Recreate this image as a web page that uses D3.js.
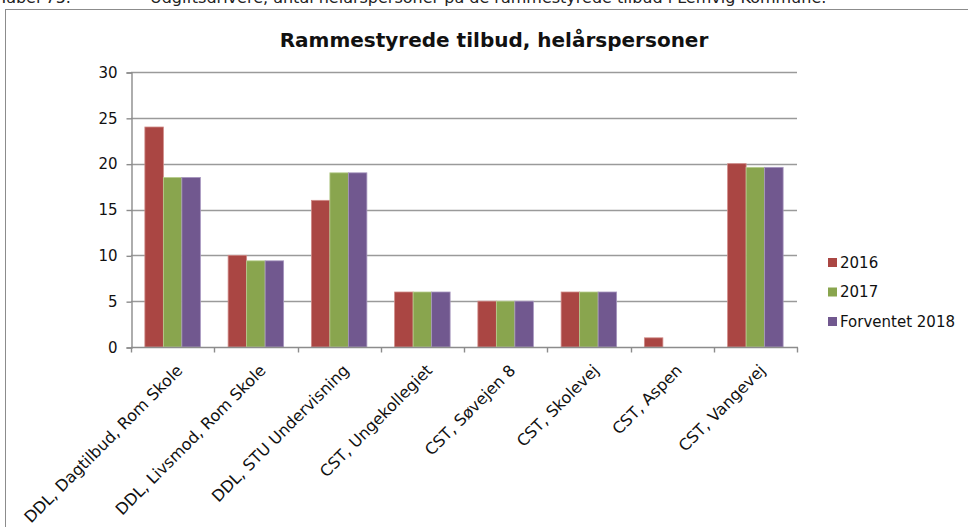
<!DOCTYPE html>
<html>
<head>
<meta charset="utf-8">
<script src="https://cdn.jsdelivr.net/npm/d3@7"></script>
<style>
  html, body { margin: 0; padding: 0; background: #fff; }
  svg { display: block; font-family: "DejaVu Sans", Verdana, sans-serif; }
</style>
</head>
<body>
<div id="chart"></div>
<script>
// data
var categories = ["DDL, Dagtilbud, Rom Skole", "DDL, Livsmod, Rom Skole", "DDL, STU Undervisning",
  "CST, Ungekollegiet", "CST, Søvejen 8", "CST, Skolevej", "CST, Aspen", "CST, Vangevej"];
var seriesNames = ["2016", "2017", "Forventet 2018"];
var values2016 = [24, 10, 16, 6, 5, 6, 1, 20];
var values2017 = [18.5, 9.4, 19, 6, 5, 6, 0, 19.6];
var values2018 = [18.5, 9.4, 19, 6, 5, 6, 0, 19.6];
var colors = ["#AA4643", "#89A54E", "#71588F"];
var edgeColors = ["#d08a87", "#b7cd8e", "#a796bf"];
var yTicks = [0, 5, 10, 15, 20, 25, 30];

var W = 968, H = 527;
var plot = { left: 131, right: 797, top: 72, bottom: 347 };

var svg = d3.select("#chart").append("svg").attr("width", W).attr("height", H);

// caption line of the document, clipped at the top
svg.append("text").attr("x", -1).attr("y", 3).attr("font-size", 16).attr("fill", "#222")
  .text("Tabel 75.");
svg.append("text").attr("x", 150).attr("y", 3).attr("font-size", 16).attr("fill", "#222")
  .text("Udgiftsdrivere, antal helårspersoner på de rammestyrede tilbud i Lemvig Kommune.");

// chart frame (runs off the page on the right and bottom)
svg.append("rect").attr("x", 5.5).attr("y", 9.5).attr("width", W + 20).attr("height", H + 20)
  .attr("fill", "none").attr("stroke", "#8c8c8c").attr("stroke-width", 1);

svg.append("text").attr("x", 494).attr("y", 47).attr("text-anchor", "middle")
  .attr("font-size", 20).attr("font-weight", "bold").attr("fill", "#111")
  .text("Rammestyrede tilbud, helårspersoner");

var x0 = d3.scaleBand().domain(categories).range([plot.left, plot.right]).paddingInner(0).paddingOuter(0);
var groupW = x0.bandwidth() * 3 / 4.5;
var x1 = d3.scaleBand().domain(seriesNames).range([0, groupW]).padding(0);
var y = d3.scaleLinear().domain([0, 30]).range([plot.bottom, plot.top]);

// gridlines
svg.append("g").selectAll("line").data(yTicks.slice(1)).join("line")
  .attr("x1", plot.left).attr("x2", plot.right)
  .attr("y1", function (d) { return Math.round(y(d)) + 0.5; })
  .attr("y2", function (d) { return Math.round(y(d)) + 0.5; })
  .attr("stroke", "#9a9a9a").attr("stroke-width", 1.4);

// y axis
var yAxis = svg.append("g").attr("transform", "translate(" + (plot.left + 0.5) + ",0.5)")
  .call(d3.axisLeft(y).tickValues(yTicks).tickSize(5).tickPadding(9).tickFormat(d3.format("d")));
yAxis.select(".domain").attr("stroke", "#8c8c8c").attr("stroke-width", 1.4);
yAxis.selectAll(".tick line").attr("stroke", "#8c8c8c").attr("stroke-width", 1.4);
yAxis.selectAll(".tick text").attr("font-size", 15).attr("fill", "#111")
  .attr("font-family", "DejaVu Sans, Verdana, sans-serif");

// bars
var rows = categories.map(function (c, i) {
  return { cat: c, vals: [values2016[i], values2017[i], values2018[i]] };
});
var groups = svg.append("g").selectAll("g").data(rows).join("g")
  .attr("transform", function (d) { return "translate(" + (x0(d.cat) + (x0.bandwidth() - groupW) / 2) + ",0)"; });
groups.selectAll("rect").data(function (d) {
  return d.vals.map(function (v, k) { return { k: k, v: v }; }).filter(function (o) { return o.v > 0; });
}).join("rect")
  .attr("x", function (d) { return x1(seriesNames[d.k]); })
  .attr("y", function (d) { return y(d.v); })
  .attr("width", x1.bandwidth())
  .attr("height", function (d) { return y(0) - y(d.v); })
  .attr("fill", function (d) { return colors[d.k]; })
  .attr("stroke", function (d) { return edgeColors[d.k]; })
  .attr("stroke-width", 0.8);

// x axis
var xAxisG = svg.append("g").attr("transform", "translate(0," + (plot.bottom + 0.5) + ")");
xAxisG.append("line").attr("x1", plot.left).attr("x2", plot.right + 1)
  .attr("stroke", "#8c8c8c").attr("stroke-width", 1.4);
var xTicks = categories.map(function (c) { return x0(c); }).concat([plot.right]);
xAxisG.selectAll("line.tk").data(xTicks).join("line").attr("class", "tk")
  .attr("x1", function (d) { return Math.round(d) + 0.5; }).attr("x2", function (d) { return Math.round(d) + 0.5; })
  .attr("y1", 0).attr("y2", 5).attr("stroke", "#8c8c8c").attr("stroke-width", 1.4);
xAxisG.selectAll("text").data(categories).join("text")
  .attr("transform", function (d) {
    return "translate(" + (x0(d) + x0.bandwidth() / 2 + 3) + ",16) rotate(-45)";
  })
  .attr("text-anchor", "end").attr("dy", "0.7em")
  .attr("font-size", 16).attr("fill", "#111")
  .text(function (d) { return d; });

// legend
var legend = svg.append("g").selectAll("g").data(seriesNames).join("g")
  .attr("transform", function (d, i) { return "translate(828," + (258 + i * 29.5) + ")"; });
legend.append("rect").attr("width", 9).attr("height", 9).attr("fill", function (d, i) { return colors[i]; });
legend.append("text").attr("x", 12).attr("y", 9.5).attr("font-size", 15).attr("fill", "#111")
  .text(function (d) { return d; });
</script>
</body>
</html>
